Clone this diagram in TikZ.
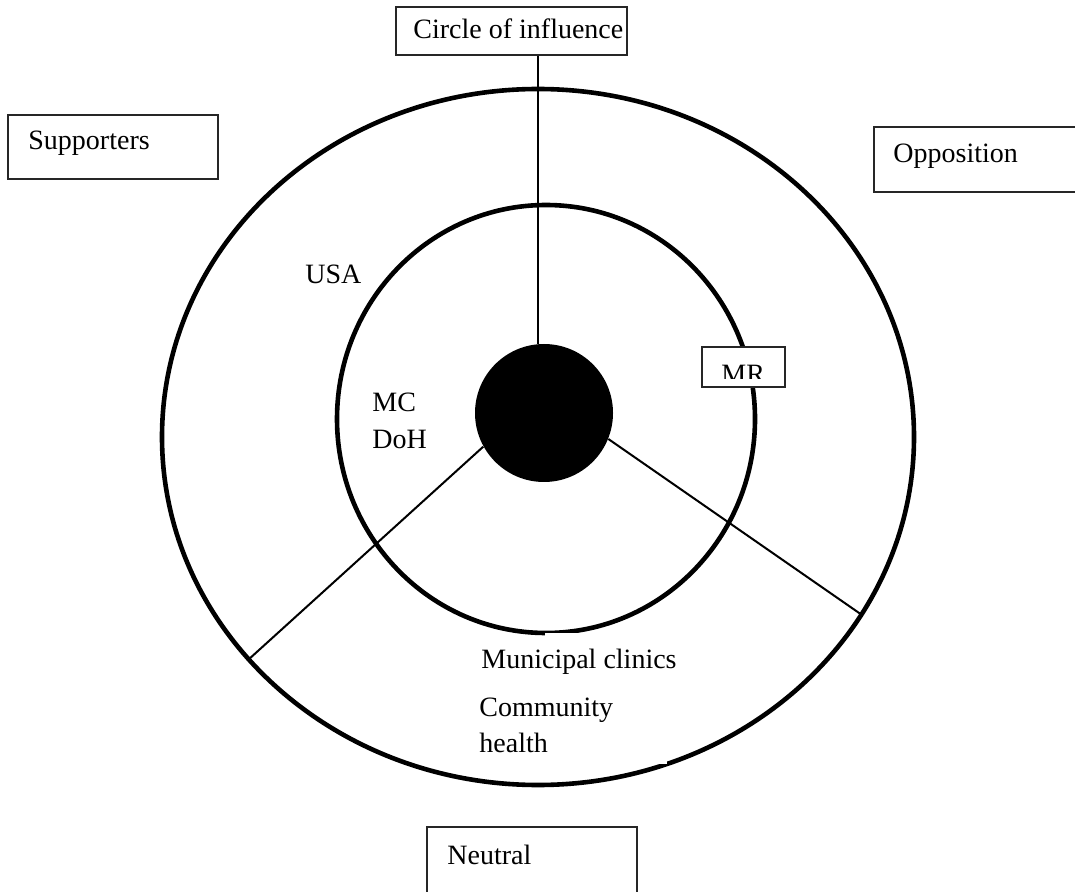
\documentclass[tikz,border=0pt]{standalone}
\usepackage{fontspec}
\setmainfont{Liberation Serif}
\begin{document}
\begin{tikzpicture}[x=0.5pt,y=-0.5pt,
  ring/.style={line width=2.3pt},
  spoke/.style={line width=1pt},
  labelbox/.style={draw=black!85, line width=0.8pt, fill=white, rectangle, inner sep=0pt},
  lbl/.style={inner sep=0pt, anchor=base west, font=\fontsize{14}{16}\selectfont}]
\useasboundingbox (0,0) rectangle (1075,892);
\clip (0,0) rectangle (1075,892);
% rings
\draw[ring] (538,437) ellipse [x radius=188pt, y radius=174pt];
\draw[ring] (546,419) ellipse [x radius=104.5pt, y radius=107pt];
% white text areas covering parts of rings
\fill[white] (545,633) rectangle (655,680);
\fill[white] (470,684) rectangle (667,764);
% centre and spokes
\node[circle, fill=black, minimum size=69pt, inner sep=0pt] (core) at (544,413) {};
\coordinate (e1) at (248,660);
\coordinate (e2) at (862,615);
\coordinate (vtop) at (538,55);
\draw[spoke] (vtop) -- (vtop |- core.north);
\draw[spoke] (core.209) -- (e1);
\draw[spoke] (core.338) -- (e2);
% boxes
\node[labelbox, minimum width=115.5pt, minimum height=24pt] (inf) at (511.5,31) {};
\node[labelbox, minimum width=105pt, minimum height=32pt] (sup) at (113,147) {};
\node[labelbox, minimum width=108pt, minimum height=32.5pt] (opp) at (982,159.5) {};
\node[labelbox, minimum width=105pt, minimum height=39pt] (neu) at (532,866) {};
\node[labelbox, minimum width=41.5pt, minimum height=20pt] (mr) at (743.5,367) {};
\begin{scope}
\clip (702,347) rectangle (785,379);
\node[lbl] (tmr) at (721,384) {MR};
\end{scope}
% labels
\node[lbl] (tinf) at (413,39) {Circle of influence};
\node[lbl] (tsup) at (28,150) {Supporters};
\node[lbl] (topp) at (893,163) {Opposition};
\node[lbl] (tneu) at (447,864) {Neutral};
\node[lbl] (tusa) at (305,284) {USA};
\node[lbl] (tmc) at (372,412) {MC};
\node[lbl] (tdoh) at (372,449) {DoH};
\node[lbl] (tmun) at (481,668) {Municipal clinics};
\node[lbl] (tcom) at (479,716) {Community};
\node[lbl] (thea) at (479,752) {health};
\end{tikzpicture}
\end{document}
